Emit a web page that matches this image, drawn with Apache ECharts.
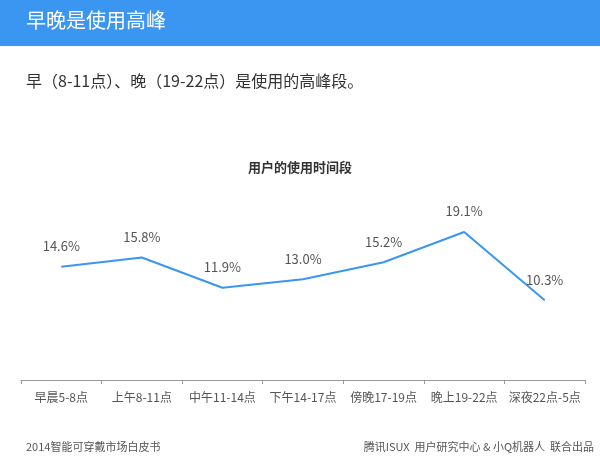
<!DOCTYPE html>
<html>
<head>
<meta charset="utf-8">
<script src="https://cdn.jsdelivr.net/npm/echarts@6/dist/echarts.min.js"></script>
<style>
body{margin:0;background:#fff;}
#chart{width:600px;height:464px;}
</style>
</head>
<body>
<div id="chart"></div>
<script>
var categories = ['早晨5-8点', '上午8-11点', '中午11-14点', '下午14-17点', '傍晚17-19点', '晚上19-22点', '深夜22点-5点'];
var usage = [14.6, 15.8, 11.9, 13.0, 15.2, 19.1, 10.3];

var font = '"Noto Sans CJK SC", sans-serif';
var myChart = echarts.init(document.getElementById('chart'));
myChart.setOption({
    backgroundColor: '#fff',
    animation: false,
    graphic: [
        { type: 'rect', shape: { x: 0, y: 0, width: 600, height: 46 }, style: { fill: '#3a96f0' } },
        { type: 'text', left: 26, top: 10, style: { text: '早晚是使用高峰', fill: '#fff', font: '20px ' + font } },
        { type: 'text', left: 26, top: 73, style: { text: '早（8-11点）、晚（19-22点）是使用的高峰段。', fill: '#333', font: '16px ' + font } },
        { type: 'text', left: 26, top: 441, style: { text: '2014智能可穿戴市场白皮书', fill: '#555', font: '11px ' + font } },
        { type: 'text', right: 6, top: 441, style: { text: '腾讯ISUX  用户研究中心 & 小Q机器人  联合出品', fill: '#555', font: '11px ' + font } }
    ],
    title: {
        text: '用户的使用时间段',
        left: 'center',
        top: 156,
        textStyle: { fontSize: 13, fontWeight: 'bold', color: '#333', fontFamily: font }
    },
    grid: { left: 21, right: 15, top: 225, bottom: 84 },
    xAxis: {
        type: 'category',
        data: categories,
        axisLine: { lineStyle: { color: '#999' } },
        axisTick: { show: true, length: 4, interval: 0, lineStyle: { color: '#999' } },
        axisLabel: { color: '#555', fontSize: 12, margin: 11, interval: 0, fontFamily: font }
    },
    yAxis: { type: 'value', min: 0, max: 20, show: false, splitLine: { show: false } },
    series: [{
        type: 'line',
        data: usage,
        symbol: 'circle',
        symbolSize: 0.1,
        showSymbol: true,
        lineStyle: { color: '#3a96f0', width: 2 },
        itemStyle: { color: '#3a96f0' },
        label: {
            show: true,
            position: 'top',
            distance: 14,
            color: '#555',
            fontSize: 13,
            fontFamily: font,
            formatter: function (p) { return p.value.toFixed(1) + '%'; }
        }
    }]
});
</script>
</body>
</html>
